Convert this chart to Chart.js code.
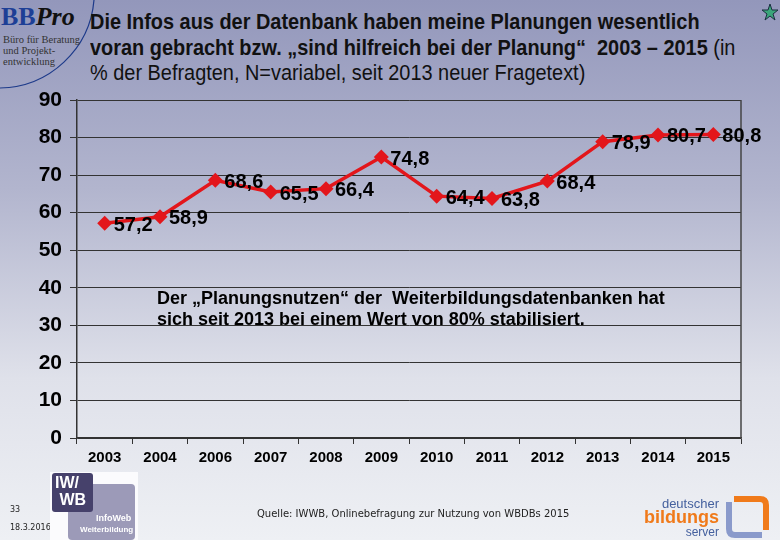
<!DOCTYPE html>
<html>
<head>
<meta charset="utf-8">
<script src="https://cdn.jsdelivr.net/npm/chart.js"></script>
<style>
  html, body { margin: 0; padding: 0; }
  body {
    width: 780px; height: 540px; overflow: hidden; position: relative;
    background: linear-gradient(to bottom, #9397bb 0%, #b2b5ce 35%, #dfe1ea 70%, #eef0f4 100%);
    font-family: "Liberation Sans", Arial, sans-serif;
  }
  .abs { position: absolute; white-space: nowrap; }
  #title {
    left: 90px; top: 9px; font-size: 22px; line-height: 25.5px; color: #111;
    transform: scaleX(0.905); transform-origin: left top;
  }
  #title b { font-weight: bold; }
  #bb { left: 1px; top: 2px; font-family: "Liberation Serif", serif; font-size: 26px; font-weight: bold; }
  #bb .b { color: #1d3f96; }
  #bb .p { color: #111; font-style: italic; }
  #bbsub { left: 3px; top: 34px; font-family: "Liberation Serif", serif; font-size: 10.5px; line-height: 11px; color: #333; }
  #wrap { position: absolute; left: 0; top: 0; }
  .small { font-size: 8px; color: #222; font-family: "DejaVu Sans", sans-serif; }
  #src { left: 257px; top: 508px; font-family: "DejaVu Sans", sans-serif; font-size: 10px; color: #222; }
</style>
</head>
<body>

<svg class="abs" style="left:0;top:0" width="120" height="100">
  <path d="M 94 0 A 96 96 0 0 1 0 88" fill="none" stroke="#1d3a8a" stroke-width="1.2"/>
</svg>
<div id="bb" class="abs"><span class="b">BB</span><span class="p">Pro</span></div>
<div id="bbsub" class="abs">Büro für Beratung<br>und Projekt-<br>entwicklung</div>

<div id="title" class="abs"><b>Die Infos aus der Datenbank haben meine Planungen wesentlich</b><br><b>voran gebracht bzw. „sind hilfreich bei der Planung“&nbsp; 2003 – 2015</b> (in<br>% der Befragten, N=variabel, seit 2013 neuer Fragetext)</div>

<svg class="abs" style="left:761px;top:3px" width="18" height="18">
  <polygon points="9,1 11,7 17,7 12,11 14,17 9,13 4,17 6,11 1,7 7,7" fill="#3aa57a" stroke="#1a3040" stroke-width="1"/>
</svg>

<div id="wrap"><canvas id="myChart" width="780" height="540"></canvas></div>

<div class="abs small" style="left:10px;top:505px">33</div>
<div class="abs small" style="left:10px;top:523px">18.3.2016</div>

<div class="abs" style="left:50px;top:472px;width:88px;height:68px;background:#fbfbfd"></div>
<div class="abs" style="left:68px;top:484px;width:67px;height:56px;background:#9c9ab8;border-radius:4px"></div>
<div class="abs" style="left:52px;top:473px;width:41px;height:39px;background:#46416b;border-radius:3px"></div>
<div class="abs" style="left:55px;top:474px;color:#fff;font-weight:bold;font-size:16px;line-height:17px">IW/<br>&nbsp;WB</div>
<div class="abs" style="left:96px;top:513px;color:#fff;font-weight:bold;font-size:9px">InfoWeb</div>
<div class="abs" style="left:80px;top:525px;color:#fff;font-weight:bold;font-size:8px">Weiterbildung</div>

<div id="src" class="abs">Quelle: IWWB, Onlinebefragung zur Nutzung von WBDBs 2015</div>

<div class="abs" style="left:640px;top:496px;width:79px;text-align:right;color:#44609e;font-size:13px">deutscher</div>
<div class="abs" style="left:640px;top:507px;width:79px;text-align:right;color:#f07a1a;font-size:18px;font-weight:bold">bildungs</div>
<div class="abs" style="left:640px;top:525px;width:79px;text-align:right;color:#44609e;font-size:12px">server</div>
<svg class="abs" style="left:722px;top:492px" width="50" height="48">
  <path d="M 7 10 L 7 37 Q 7 43 13 43 L 40 43" fill="none" stroke="#8a9acb" stroke-width="6"/>
  <path d="M 12 7 L 38 7 Q 44 7 44 13 L 44 38" fill="none" stroke="#f07a1a" stroke-width="6"/>
</svg>

<script>
const years = ['2003', '2004', '2006', '2007', '2008', '2009', '2010', '2011', '2012', '2013', '2014', '2015'];
const values = [57.2, 58.9, 68.6, 65.5, 66.4, 74.8, 64.4, 63.8, 68.4, 78.9, 80.7, 80.8];
const yTicks = [0, 10, 20, 30, 40, 50, 60, 70, 80, 90];
const note = [
  'Der „Planungsnutzen“ der  Weiterbildungsdatenbanken hat',
  'sich seit 2013 bei einem Wert von 80% stabilisiert.'
];

// Beschriftung, Rahmen rechts, Hinweistext
const extras = {
  id: 'extras',
  afterDraw(chart) {
    const ctx = chart.ctx;
    const a = chart.chartArea;
    ctx.save();
    ctx.strokeStyle = '#444';
    ctx.lineWidth = 1.5;
    ctx.beginPath();
    ctx.moveTo(a.right, a.top);
    ctx.lineTo(a.right, a.bottom);
    ctx.stroke();

    ctx.fillStyle = '#000';
    ctx.font = 'bold 18px "Liberation Sans", Arial';
    ctx.textBaseline = 'alphabetic';
    ctx.textAlign = 'left';
    ctx.fillText(note[0], 157, 304);
    ctx.fillText(note[1], 157, 325);

    ctx.font = 'bold 20px "Liberation Sans", Arial';
    ctx.textBaseline = 'middle';
    const meta = chart.getDatasetMeta(0);
    meta.data.forEach((pt, i) => {
      ctx.fillText(values[i].toFixed(1).replace('.', ','), pt.x + 9, pt.y + 2);
    });
    ctx.restore();
  }
};

const data = {
  labels: years,
  datasets: [{
    data: values,
    borderColor: '#e3161b',
    backgroundColor: '#e3161b',
    borderWidth: 3.5,
    pointStyle: 'rectRot',
    pointRadius: 7.5,
    pointBorderWidth: 0,
    tension: 0
  }]
};

const config = {
  type: 'line',
  data: data,
  options: {
    responsive: false,
    animation: false,
    layout: { padding: { top: 100, right: 39, left: 0, bottom: 0 } },
    plugins: { legend: { display: false }, tooltip: { enabled: false } },
    scales: {
      y: {
        min: 0, max: 90,
        afterBuildTicks: s => { s.ticks = yTicks.map(v => ({ value: v })); },
        afterFit: s => { s.width = 77; },
        ticks: { color: '#000', font: { family: '"Liberation Sans", Arial', size: 21, weight: 'bold' }, padding: 8 },
        grid: { color: '#333', lineWidth: 1, tickLength: 7 },
        border: { color: '#333', width: 1.5 }
      },
      x: {
        offset: true,
        afterFit: s => { s.height = 102; },
        ticks: { color: '#000', font: { family: '"Liberation Sans", Arial', size: 15, weight: 'bold' }, padding: 5 },
        grid: { drawOnChartArea: false, offset: true, color: '#333', tickLength: 6 },
        border: { color: '#333', width: 1.5 }
      }
    }
  },
  plugins: [extras]
};

var myChart = new Chart(document.getElementById('myChart'), config);
</script>
</body>
</html>
